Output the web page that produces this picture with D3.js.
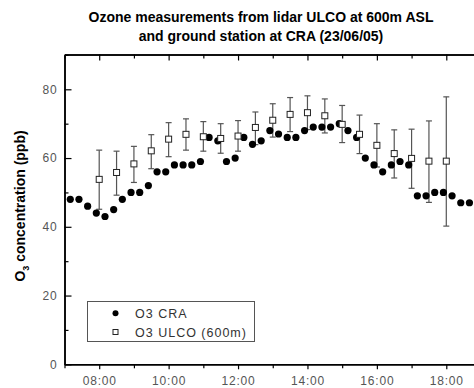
<!DOCTYPE html>
<html>
<head>
<meta charset="utf-8">
<script src="https://cdn.jsdelivr.net/npm/d3@7"></script>
<style>
  html, body { margin: 0; padding: 0; background: #fff; }
  svg { display: block; font-family: "Liberation Sans", Arial, sans-serif; }
</style>
</head>
<body>
<svg id="chart" width="474" height="388"></svg>
<script>
// ---- data ----
const titleLines = ["Ozone measurements from lidar ULCO at 600m ASL",
                    "and ground station at CRA (23/06/05)"];
const seriesNames = ["O3 CRA", "O3 ULCO (600m)"];

const craTimes = ["07:10","07:25","07:40","07:55","08:10","08:25","08:40","08:55",
  "09:10","09:25","09:40","09:55","10:10","10:25","10:40","10:55",
  "11:10","11:25","11:40","11:55","12:10","12:25","12:40","12:55",
  "13:10","13:25","13:40","13:55","14:10","14:25","14:40","14:55",
  "15:10","15:25","15:40","15:55","16:10","16:25","16:40","16:55",
  "17:10","17:25","17:40","17:55","18:10","18:25","18:40"];
const craValues = [48,48,46,44,43,45,48,50,50,52,56,56,58,58,58,59,
  66,65,59,60,66,64,65,68,67,66,66,68,69,69,69,70,
  68,66,60,58,56,58,59,58,49,49,50,50,49,47,47];

const ulcoTimes = ["08:00","08:30","09:00","09:30","10:00","10:30","11:00","11:30",
  "12:00","12:30","13:00","13:30","14:00","14:30","15:00","15:30",
  "16:00","16:30","17:00","17:30","18:00"];
const ulcoValues = [53.8,55.8,58.3,62.1,65.5,66.9,66.2,65.7,66.4,68.9,71.0,72.7,
  73.2,72.3,69.8,66.9,63.7,61.3,59.9,59.1,59.1];
const ulcoHigh = [62.3,62.0,63.4,66.8,70.3,71.4,70.6,70.0,70.9,73.4,75.8,77.6,
  78.1,77.2,75.3,72.5,70.0,68.2,68.4,70.8,77.8];
const ulcoLow = [45.1,49.2,52.9,56.9,60.4,62.3,62.0,61.4,62.0,63.9,66.1,67.7,
  68.3,67.3,64.5,61.3,57.4,54.2,51.2,47.1,40.2];

const xDomain = ["07:00","19:00"];
const xMajorTicks = ["08:00","10:00","12:00","14:00","16:00","18:00"];
const xMinorTicks = ["07:00","09:00","11:00","13:00","15:00","17:00","19:00"];
const yDomain = [0, 90];
const yMajorTicks = [0,20,40,60,80];
const yMinorTicks = [10,30,50,70,90];
const yLabel = ["O", "3", " concentration (ppb)"];

// ---- drawing ----
const parseT = d3.timeParse("%H:%M");
const fmt = d3.timeFormat("%H:%M");
const svg = d3.select("#chart");
const L = 64.5, R = 481, T = 54.5, B = 364.3;

const x = d3.scaleTime().domain(xDomain.map(parseT)).range([L, R]);
const y = d3.scaleLinear().domain(yDomain).range([B, B - 90 * 3.4375]);

const tickColor = "#555";
function styleAxis(g) {
  g.selectAll(".domain").attr("stroke", "#000").attr("stroke-width", 1.5);
  g.selectAll(".tick line").attr("stroke", "#000").attr("stroke-width", 1.2);
  g.selectAll(".tick text").attr("fill", tickColor)
    .style("font-size", "12px").style("letter-spacing", "0.8px")
    .style("font-family", "'Liberation Sans', Arial, sans-serif");
}

// bottom axis
svg.append("g").attr("transform", `translate(0,${B})`)
  .call(d3.axisBottom(x).tickValues(xMajorTicks.map(parseT)).tickFormat(fmt)
    .tickSize(5).tickSizeOuter(0).tickPadding(7))
  .call(styleAxis);
svg.append("g").attr("transform", `translate(0,${B})`)
  .call(d3.axisBottom(x).tickValues(xMinorTicks.map(parseT)).tickFormat("")
    .tickSize(4).tickSizeOuter(0))
  .call(styleAxis);
// top axis (ticks inward)
svg.append("g").attr("transform", `translate(0,${T})`)
  .call(d3.axisBottom(x).tickValues(xMajorTicks.map(parseT)).tickFormat("")
    .tickSize(6).tickSizeOuter(0))
  .call(styleAxis);
svg.append("g").attr("transform", `translate(0,${T})`)
  .call(d3.axisBottom(x).tickValues(xMinorTicks.map(parseT)).tickFormat("")
    .tickSize(4).tickSizeOuter(0))
  .call(styleAxis);
// left axis (ticks inward, labels outside)
const leftMajor = svg.append("g").attr("transform", `translate(${L},0)`)
  .call(d3.axisRight(y).tickValues(yMajorTicks).tickFormat(d3.format("d"))
    .tickSize(7).tickSizeOuter(0))
  .call(styleAxis);
leftMajor.selectAll(".tick text").attr("x", -7).attr("text-anchor", "end");
svg.append("g").attr("transform", `translate(${L},0)`)
  .call(d3.axisRight(y).tickValues(yMinorTicks).tickFormat("")
    .tickSize(4).tickSizeOuter(0))
  .call(styleAxis);
// right axis (off the visible area, as in reference)
svg.append("g").attr("transform", `translate(${R},0)`)
  .call(d3.axisLeft(y).tickValues(yMajorTicks).tickFormat("").tickSize(7).tickSizeOuter(0))
  .call(styleAxis);

// error bars for ULCO
const ulco = ulcoTimes.map((t, i) => ({ t: parseT(t), v: ulcoValues[i], hi: ulcoHigh[i], lo: ulcoLow[i] }));
const eb = svg.append("g").attr("stroke", "#555").attr("stroke-width", 1.2);
ulco.forEach(d => {
  const cx = x(d.t);
  eb.append("line").attr("x1", cx).attr("x2", cx).attr("y1", y(d.hi)).attr("y2", y(d.lo));
  eb.append("line").attr("x1", cx - 3).attr("x2", cx + 3).attr("y1", y(d.hi)).attr("y2", y(d.hi));
  eb.append("line").attr("x1", cx - 3).attr("x2", cx + 3).attr("y1", y(d.lo)).attr("y2", y(d.lo));
});

// CRA points
const cra = craTimes.map((t, i) => ({ t: parseT(t), v: craValues[i] }));
svg.append("g").selectAll("circle").data(cra).join("circle")
  .attr("cx", d => x(d.t)).attr("cy", d => y(d.v)).attr("r", 3.6).attr("fill", "#000");

// ULCO squares
const sq = 6;
svg.append("g").selectAll("rect").data(ulco).join("rect")
  .attr("x", d => x(d.t) - sq / 2).attr("y", d => y(d.v) - sq / 2)
  .attr("width", sq).attr("height", sq)
  .attr("fill", "#fff").attr("stroke", "#222").attr("stroke-width", 1);

// title
svg.append("g").selectAll("text").data(titleLines).join("text")
  .attr("x", 261).attr("y", (d, i) => 22 + i * 18.5)
  .attr("text-anchor", "middle").attr("font-weight", "bold")
  .style("font-size", "14px").text(d => d);

// y label
const yl = svg.append("text").attr("transform", "translate(25,206) rotate(-90)")
  .attr("text-anchor", "middle").attr("font-weight", "bold").style("font-size", "14px");
yl.append("tspan").text(yLabel[0]);
yl.append("tspan").attr("dy", 4).style("font-size", "9px").text(yLabel[1]);
yl.append("tspan").attr("dy", -4).text(yLabel[2]);

// legend
const lg = svg.append("g");
lg.append("rect").attr("x", 87.5).attr("y", 301.5).attr("width", 167).attr("height", 40)
  .attr("fill", "#fff").attr("stroke", "#555").attr("stroke-width", 1);
lg.append("circle").attr("cx", 115.5).attr("cy", 313.3).attr("r", 3).attr("fill", "#000");
lg.append("rect").attr("x", 113).attr("y", 329.5).attr("width", 5).attr("height", 5)
  .attr("fill", "#fff").attr("stroke", "#222").attr("stroke-width", 1);
lg.selectAll("text.lt").data(seriesNames).join("text").attr("class", "lt")
  .attr("x", 135).attr("y", (d, i) => 317.8 + i * 18.7)
  .attr("fill", "#333").style("font-size", "12.5px").style("letter-spacing", "1px")
  .text(d => d);
</script>
</body>
</html>
